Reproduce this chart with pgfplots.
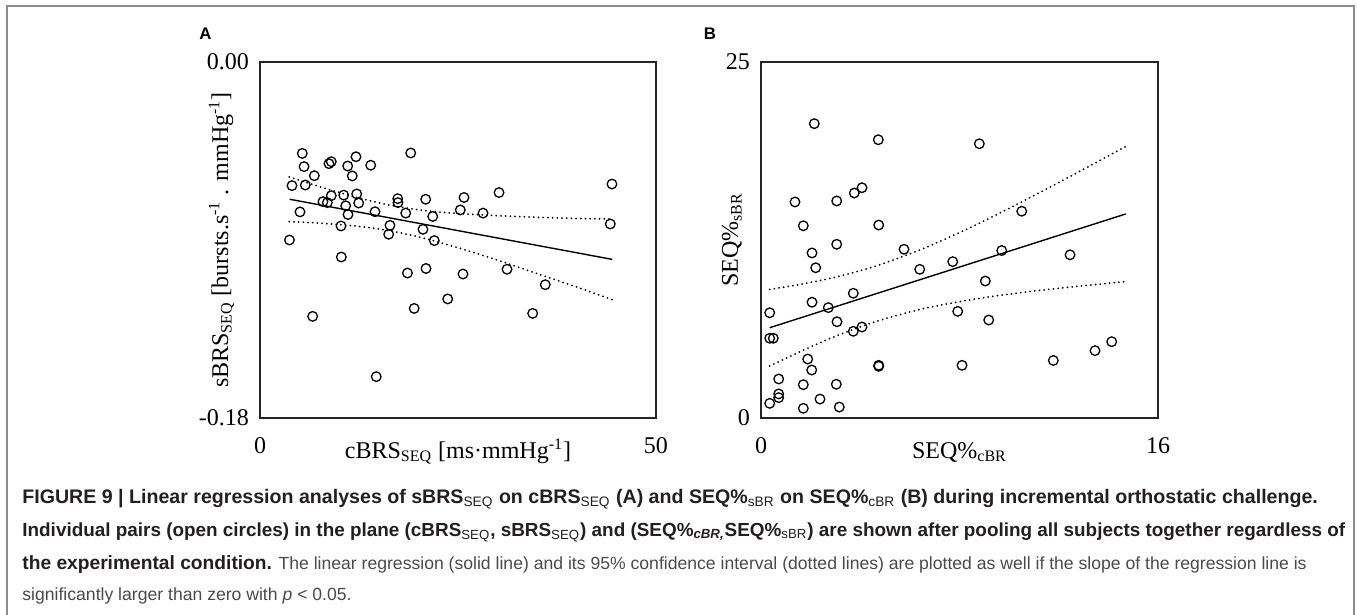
\documentclass[border=0pt]{standalone}
\usepackage{fontspec}
\setmainfont{Liberation Serif}
\newfontfamily\capfont{Liberation Sans}
\usepackage{pgfplots}
\pgfplotsset{compat=1.18}
\definecolor{framegray}{HTML}{8C8C8C}
\definecolor{capbold}{HTML}{231F20}
\definecolor{capreg}{HTML}{4A4A4A}

\pgfplotstableread{
x y
5.34 -0.0462
5.56 -0.0529
6.86 -0.0575
4.04 -0.0625
5.72 -0.0622
8.71 -0.0514
9.00 -0.0504
11.07 -0.0526
12.12 -0.0479
11.65 -0.0576
13.98 -0.0522
19.03 -0.0460
7.95 -0.0706
8.50 -0.0711
9.00 -0.0676
10.57 -0.0673
12.21 -0.0667
12.46 -0.0713
10.82 -0.0727
5.05 -0.0758
11.11 -0.0771
14.52 -0.0757
17.39 -0.0691
17.42 -0.0711
18.40 -0.0764
20.92 -0.0694
21.81 -0.0781
25.76 -0.0685
25.29 -0.0748
28.16 -0.0764
30.18 -0.0660
10.23 -0.0829
16.41 -0.0826
16.25 -0.0871
20.58 -0.0846
22.01 -0.0903
3.72 -0.0900
10.27 -0.0986
18.62 -0.1067
20.96 -0.1044
25.63 -0.1072
23.70 -0.1198
19.47 -0.1246
6.65 -0.1286
14.68 -0.1591
44.44 -0.0617
44.23 -0.0819
31.19 -0.1048
36.02 -0.1126
34.43 -0.1271
}\ptsA

\pgfplotstableread{
x y
2.148 20.67
4.728 19.54
8.799 19.26
1.370 15.17
3.051 15.24
3.761 15.80
4.071 16.17
1.705 13.50
4.744 13.55
3.051 12.20
10.508 14.52
5.764 11.85
9.702 11.76
2.056 11.59
2.205 10.55
6.397 10.44
7.727 10.98
12.455 11.46
9.041 9.62
3.720 8.76
2.056 8.13
2.713 7.75
0.351 7.39
3.063 6.76
3.720 6.09
4.071 6.39
7.928 7.49
9.178 6.88
0.351 5.60
0.496 5.60
1.882 4.14
2.044 3.37
4.744 3.70
4.744 3.63
8.102 3.70
11.781 4.04
0.713 2.74
1.705 2.34
3.035 2.37
0.713 1.69
0.713 1.43
0.351 1.03
2.378 1.33
1.705 0.68
3.156 0.77
13.462 4.73
14.135 5.36
}\ptsB

\pgfplotsset{
  myaxis/.style={
    scale only axis,
    axis line style={line width=0.7pt, black!85},
    major tick length=0pt,
    tick style={draw=none},
    /pgf/number format/assume math mode=true,
    font=\fontsize{12}{14}\selectfont,
    xticklabel style={anchor=base, yshift=-17.5pt},
    yticklabel style={xshift=-2pt},
    clip=false,
  },
  circ/.style={only marks, mark=o, mark size=2.4pt, mark options={line width=0.65pt, black}, black},
  reg/.style={no marks, line width=0.7pt, black},
  ci/.style={no marks, smooth, line width=1pt, black, dash pattern=on 0pt off 2.35pt, line cap=round},
}

\begin{document}
\begin{tikzpicture}
\useasboundingbox (0,0) rectangle (678.5pt,-307.5pt);

% ---------- Panel A ----------
\begin{axis}[myaxis, at={(130pt,-209pt)}, anchor=south west,
  width=198pt, height=178pt,
  xmin=0, xmax=50, ymin=-0.18, ymax=0,
  xtick={0,50}, xticklabels={0,50},
  ytick={-0.18,0}, yticklabels={-0.18,0.00},
  xlabel={cBRS\textsubscript{SEQ} [ms·mmHg\textsuperscript{-1}]},
  ylabel={sBRS\textsubscript{SEQ} [bursts.s\textsuperscript{-1} . mmHg\textsuperscript{-1}]},
  xlabel style={at={(axis description cs:0.5,-0.1124)}, anchor=base},
  ylabel style={at={(axis description cs:-0.0808,0.5)}, anchor=base},
]
\addplot[circ] table[x=x,y=y] {\ptsA};
\addplot[reg] coordinates {(3.75,-0.0694) (44.48,-0.0998)};
\addplot[ci] coordinates {(3.7,-0.0581) (6,-0.0611) (9,-0.0648) (12,-0.0682) (15,-0.0712) (18,-0.0735) (21,-0.0752) (25,-0.0766) (30,-0.0777) (35,-0.0785) (40,-0.0791) (44.5,-0.0794)};
\addplot[ci] coordinates {(3.7,-0.0807) (6,-0.0811) (9,-0.0819) (12,-0.0829) (15,-0.0844) (18,-0.0866) (21,-0.0894) (25,-0.0939) (30,-0.1002) (35,-0.1070) (40,-0.1138) (44.5,-0.1202)};
\end{axis}

% ---------- Panel B ----------
\begin{axis}[myaxis, at={(380.5pt,-209pt)}, anchor=south west,
  width=198.5pt, height=178pt,
  xmin=0, xmax=16, ymin=0, ymax=25,
  xtick={0,16}, xticklabels={0,16},
  ytick={0,25}, yticklabels={0,25},
  xlabel={SEQ\%\textsubscript{cBR}},
  ylabel={SEQ\%\textsubscript{sBR}},
  xlabel style={at={(axis description cs:0.5,-0.1124)}, anchor=base},
  ylabel style={at={(axis description cs:-0.058,0.5)}, anchor=base},
]
\addplot[circ] table[x=x,y=y] {\ptsB};
\addplot[reg] coordinates {(0.35,6.34) (14.7,14.33)};
\addplot[ci] coordinates {(0.35,9.03) (1.5,9.36) (3,9.89) (4.66,10.69) (6.5,11.87) (8.5,13.43) (10.5,15.17) (12.5,17.00) (14.7,19.07)};
\addplot[ci] coordinates {(0.35,3.65) (1.5,4.60) (3,5.74) (4.66,6.79) (6.5,7.66) (8.5,8.32) (10.5,8.81) (12.5,9.20) (14.7,9.58)};
\end{axis}

\begin{scope}[x=0.5pt,y=-0.5pt]
\draw[framegray, line width=1pt] (7,615) -- (7,6) -- (1354,6) -- (1354,615);
\node[font=\capfont\bfseries\fontsize{8.4}{10}\selectfont, inner sep=0] at (205.5,34) {A};
\node[font=\capfont\bfseries\fontsize{8.4}{10}\selectfont, inner sep=0] at (710,34) {B};

\node[anchor=base west, inner sep=0, text=capbold, font=\capfont\bfseries\fontsize{9.8}{11}\selectfont] at (22,503)
 {FIGURE 9 | Linear regression analyses of sBRS\textsubscript{\mdseries SEQ} on cBRS\textsubscript{\mdseries SEQ} (A) and SEQ\%\textsubscript{\mdseries sBR} on SEQ\%\textsubscript{\mdseries cBR} (B) during incremental orthostatic challenge.};
\node[anchor=base west, inner sep=0, text=capbold, font=\capfont\bfseries\fontsize{9.45}{11}\selectfont] at (22,536)
 {Individual pairs (open circles) in the plane (cBRS\textsubscript{\mdseries SEQ}, sBRS\textsubscript{\mdseries SEQ}) and (SEQ\%\textsubscript{\itshape cBR,}SEQ\%\textsubscript{\mdseries sBR}) are shown after pooling all subjects together regardless of};
\node[anchor=base west, inner sep=0, text=capreg, font=\capfont\fontsize{8.8}{11}\selectfont] at (22,569)
 {\textcolor{capbold}{\fontsize{9.6}{11}\selectfont\bfseries the experimental condition.} The linear regression (solid line) and its 95\% confidence interval (dotted lines) are plotted as well if the slope of the regression line is};
\node[anchor=base west, inner sep=0, text=capreg, font=\capfont\fontsize{8.8}{11}\selectfont] at (22,600)
 {significantly larger than zero with \textit{p} < 0.05.};
\end{scope}
\end{tikzpicture}
\end{document}
